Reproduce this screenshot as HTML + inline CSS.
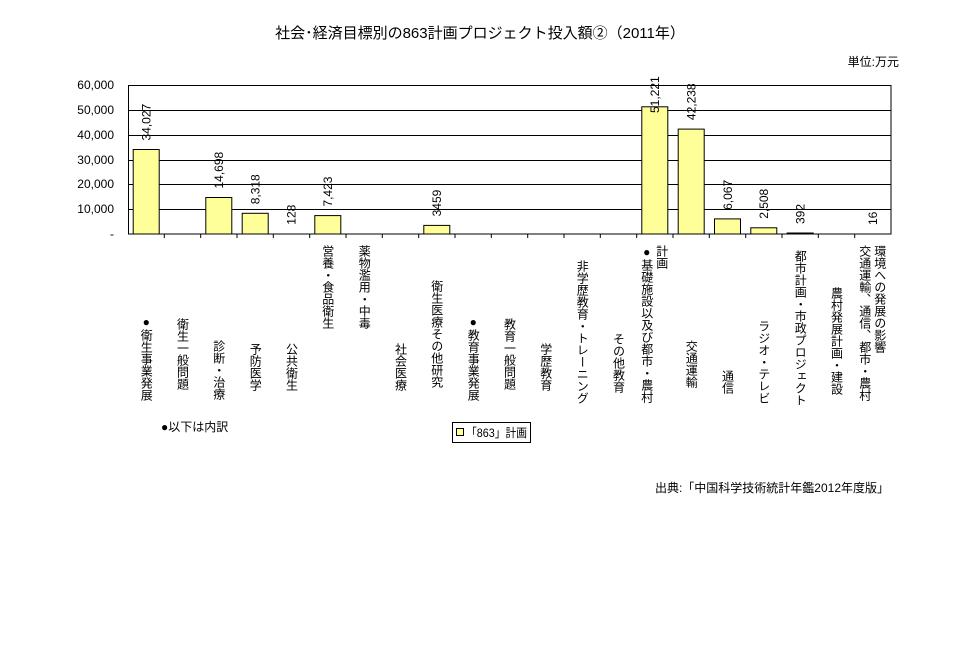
<!DOCTYPE html>
<html><head><meta charset="utf-8"><style>
body{margin:0;background:#fff;}
svg text{font-family:"Liberation Sans","Noto Sans CJK JP",sans-serif;fill:#000;}
.v{writing-mode:vertical-rl;text-orientation:upright;}
</style></head><body>
<svg width="960" height="650" xmlns="http://www.w3.org/2000/svg">
<text x="480" y="38" font-size="15" text-anchor="middle">社会･経済目標別の863計画プロジェクト投入額②（2011年）</text>
<text x="899" y="66" font-size="12" text-anchor="end">単位:万元</text>
<g font-size="12" text-anchor="end">
<text x="114" y="89">60,000</text><text x="114" y="114">50,000</text><text x="114" y="139">40,000</text>
<text x="114" y="164">30,000</text><text x="114" y="188">20,000</text><text x="114" y="213">10,000</text><text x="114" y="238">-</text>
</g>
<g stroke="#000" stroke-width="1">
<line x1="128" y1="110.5" x2="891" y2="110.5"/><line x1="128" y1="135.5" x2="891" y2="135.5"/>
<line x1="128" y1="160.5" x2="891" y2="160.5"/><line x1="128" y1="184.5" x2="891" y2="184.5"/>
<line x1="128" y1="209.5" x2="891" y2="209.5"/>
<rect x="128.5" y="85.5" width="762.5" height="148.5" fill="none"/>
</g>
<g fill="#ffff99" stroke="#000" stroke-width="1">
<rect x="133.2" y="149.5" width="26" height="84.5"/>
<rect x="205.8" y="197.5" width="26" height="36.5"/>
<rect x="242.2" y="213.3" width="26" height="20.7"/>
<rect x="314.8" y="215.6" width="26" height="18.4"/>
<rect x="423.8" y="225.4" width="26" height="8.6"/>
<rect x="641.8" y="106.8" width="26" height="127.2"/>
<rect x="678.2" y="129.1" width="26" height="104.9"/>
<rect x="714.5" y="218.9" width="26" height="15.1"/>
<rect x="750.8" y="227.8" width="26" height="6.2"/>
<rect x="787.2" y="233" width="26" height="1"/>
</g>
<g stroke="#000">
<line x1="164.3" y1="234" x2="164.3" y2="238"/><line x1="200.7" y1="234" x2="200.7" y2="238"/>
<line x1="237" y1="234" x2="237" y2="238"/><line x1="273.3" y1="234" x2="273.3" y2="238"/>
<line x1="309.7" y1="234" x2="309.7" y2="238"/><line x1="346" y1="234" x2="346" y2="238"/>
<line x1="382.3" y1="234" x2="382.3" y2="238"/><line x1="418.7" y1="234" x2="418.7" y2="238"/>
<line x1="455" y1="234" x2="455" y2="238"/><line x1="491.3" y1="234" x2="491.3" y2="238"/>
<line x1="527.7" y1="234" x2="527.7" y2="238"/><line x1="564" y1="234" x2="564" y2="238"/>
<line x1="600.3" y1="234" x2="600.3" y2="238"/><line x1="636.7" y1="234" x2="636.7" y2="238"/>
<line x1="673" y1="234" x2="673" y2="238"/><line x1="709.3" y1="234" x2="709.3" y2="238"/>
<line x1="745.7" y1="234" x2="745.7" y2="238"/><line x1="782" y1="234" x2="782" y2="238"/>
<line x1="818.3" y1="234" x2="818.3" y2="238"/><line x1="854.7" y1="234" x2="854.7" y2="238"/>
</g>
<g font-size="12">
<text transform="translate(150.5,140.5) rotate(-90)">34,027</text>
<text transform="translate(223,188.5) rotate(-90)">14,698</text>
<text transform="translate(259.5,204.3) rotate(-90)">8,318</text>
<text transform="translate(295.5,224.7) rotate(-90)">128</text>
<text transform="translate(332,206.6) rotate(-90)">7,423</text>
<text transform="translate(441,216.4) rotate(-90)">3459</text>
<text transform="translate(659,113) rotate(-90)">51,221</text>
<text transform="translate(695.5,120.1) rotate(-90)">42,238</text>
<text transform="translate(732,209.9) rotate(-90)">6,067</text>
<text transform="translate(768,218.8) rotate(-90)">2,508</text>
<text transform="translate(804.5,224) rotate(-90)">392</text>
<text transform="translate(877,225) rotate(-90)">16</text>
</g>
<g font-size="12">
<text class="v" x="146.2" y="315">●衛生事業発展</text>
<text class="v" x="182.5" y="318">衛生一般問題</text>
<text class="v" x="218.8" y="340">診断・治療</text>
<text class="v" x="255.2" y="343">予防医学</text>
<text class="v" x="291.5" y="343">公共衛生</text>
<text class="v" x="327.8" y="245">営養・食品衛生</text>
<text class="v" x="364.2" y="245">薬物濫用・中毒</text>
<text class="v" x="400.5" y="343">社会医療</text>
<text class="v" x="436.8" y="280">衛生医療その他研究</text>
<text class="v" x="473.2" y="315">●教育事業発展</text>
<text class="v" x="509.5" y="318">教育一般問題</text>
<text class="v" x="545.8" y="343">学歴教育</text>
<text class="v" x="582.2" y="260">非学歴教育・トレーニング</text>
<text class="v" x="618.5" y="333">その他教育</text>
<text class="v" x="646.8" y="245">●基礎施設以及び都市・農村</text>
<text class="v" x="661.8" y="245">計画</text>
<text class="v" x="691.2" y="340">交通運輸</text>
<text class="v" x="727.5" y="370">通信</text>
<text class="v" x="763.8" y="320">ラジオ・テレビ</text>
<text class="v" x="800.2" y="250">都市計画・市政プロジェクト</text>
<text class="v" x="836.5" y="287">農村発展計画・建設</text>
<text class="v" x="864.8" y="245">交通運輸、通信、都市・農村</text>
<text class="v" x="879.8" y="245">環境への発展の影響</text>
</g>
<text x="161" y="431" font-size="12">●以下は内訳</text>
<rect x="452.5" y="422.5" width="78" height="20" fill="#fff" stroke="#000"/>
<rect x="456.5" y="428.5" width="7" height="7" fill="#ffff99" stroke="#000"/>
<text x="466" y="437" font-size="12" textLength="61" lengthAdjust="spacingAndGlyphs">「863」計画</text>
<text x="889" y="492" font-size="12" text-anchor="end">出典:「中国科学技術統計年鑑2012年度版」</text>
</svg>
</body></html>
